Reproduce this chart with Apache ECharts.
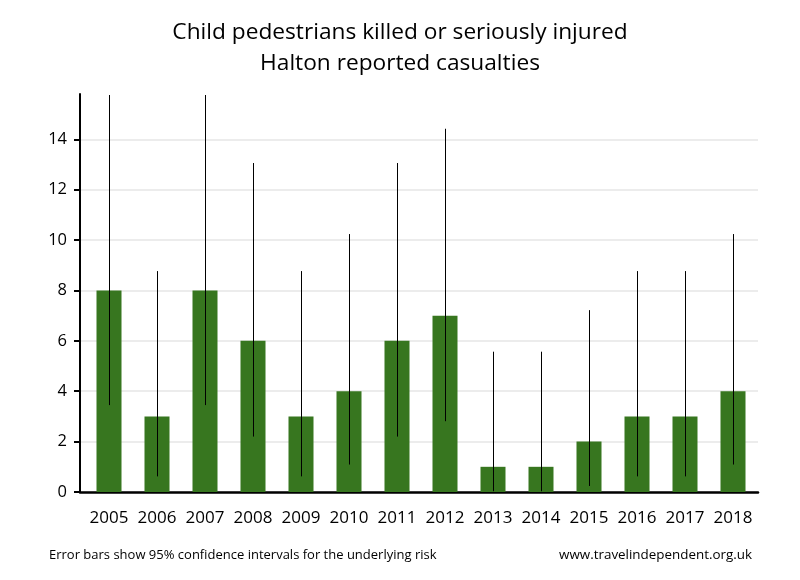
<!DOCTYPE html>
<html>
<head>
<meta charset="utf-8">
<script src="https://cdn.jsdelivr.net/npm/echarts@6/dist/echarts.min.js"></script>
<style>html,body{margin:0;padding:0;background:#fff}#c{width:800px;height:580px}</style>
</head>
<body>
<div id="c"></div>
<script>
const years = ['2005','2006','2007','2008','2009','2010','2011','2012','2013','2014','2015','2016','2017','2018'];
const casualties = [8,3,8,6,3,4,6,7,1,1,2,3,3,4];
const ciLow = [3.45,0.62,3.45,2.20,0.62,1.09,2.20,2.81,0.03,0.03,0.24,0.62,0.62,1.09];
const ciHigh = [15.76,8.77,15.76,13.06,8.77,10.24,13.06,14.42,5.57,5.57,7.22,8.77,8.77,10.24];
const yTickMax = 14;
const yAxisMax = 15.8;
const titleText = 'Child pedestrians killed or seriously injured\nHalton reported casualties';
const noteText = 'Error bars show 95% confidence intervals for the underlying risk';
const siteText = 'www.travelindependent.org.uk';

const FONT = '"Open Sans", Lato, sans-serif';
const plotTop = 94, plotBottom = 88;
const plotH = 580 - plotTop - plotBottom;
const tickTop = 580 - plotBottom - yTickMax * plotH / yAxisMax;

const chart = echarts.init(document.getElementById('c'), null, {renderer: 'canvas'});
const hidden = {show: false};
chart.setOption({
  animation: false,
  backgroundColor: '#fff',
  title: [
    {text: titleText, left: 'center', top: 12,
     textStyle: {fontFamily: FONT, fontSize: 22.7, fontWeight: 'normal', color: '#000', lineHeight: 31}},
    {text: noteText, left: 44, top: 544,
     textStyle: {fontFamily: FONT, fontSize: 13, fontWeight: 'normal', color: '#000'}},
    {text: siteText, right: 43, top: 544,
     textStyle: {fontFamily: FONT, fontSize: 13.4, fontWeight: 'normal', color: '#000'}}
  ],
  grid: [
    {left: 80, right: 42, top: tickTop, bottom: plotBottom},
    {left: 80, right: 42, top: plotTop, bottom: plotBottom},
    {left: 85, right: 43, top: plotTop, bottom: plotBottom}
  ],
  xAxis: [
    {gridIndex: 0, type: 'value', min: 0, max: 1,
     axisLine: {show: true, lineStyle: {color: '#000', width: 2.5}},
     axisTick: hidden, axisLabel: hidden, splitLine: hidden},
    {gridIndex: 1, type: 'value', min: 0, max: 1, show: false},
    {gridIndex: 2, type: 'category', data: years,
     axisLine: hidden, axisTick: hidden, splitLine: hidden,
     axisLabel: {color: '#000', fontFamily: FONT, fontSize: 17, margin: 18, interval: 0}}
  ],
  yAxis: [
    {gridIndex: 0, type: 'value', min: 0, max: yTickMax, interval: 2,
     axisLine: hidden,
     axisTick: {show: true, length: 6, lineStyle: {color: '#000', width: 2}},
     axisLabel: {color: '#000', fontFamily: FONT, fontSize: 16.5, margin: 13},
     splitLine: {show: true, lineStyle: {color: '#e6e6e6', width: 1.5}}},
    {gridIndex: 1, type: 'value', min: 0, max: yAxisMax,
     axisLine: {show: true, lineStyle: {color: '#000', width: 2}},
     axisTick: hidden, axisLabel: hidden, splitLine: hidden},
    {gridIndex: 2, type: 'value', min: 0, max: yAxisMax, show: false, splitLine: hidden}
  ],
  series: [
    {type: 'bar', xAxisIndex: 2, yAxisIndex: 2, data: casualties, barWidth: 25,
     itemStyle: {color: '#37761f'}, z: 2},
    {type: 'custom', xAxisIndex: 2, yAxisIndex: 2, z: 3,
     data: years.map((y, i) => [i, ciLow[i], ciHigh[i]]),
     renderItem: function (params, api) {
       const lo = api.coord([api.value(0), api.value(1)]);
       const hi = api.coord([api.value(0), api.value(2)]);
       const x = Math.round(lo[0]) + 0.5;
       return {type: 'line', shape: {x1: x, y1: lo[1], x2: x, y2: hi[1]},
               style: {stroke: '#000', lineWidth: 1}};
     }}
  ]
});
</script>
</body>
</html>
